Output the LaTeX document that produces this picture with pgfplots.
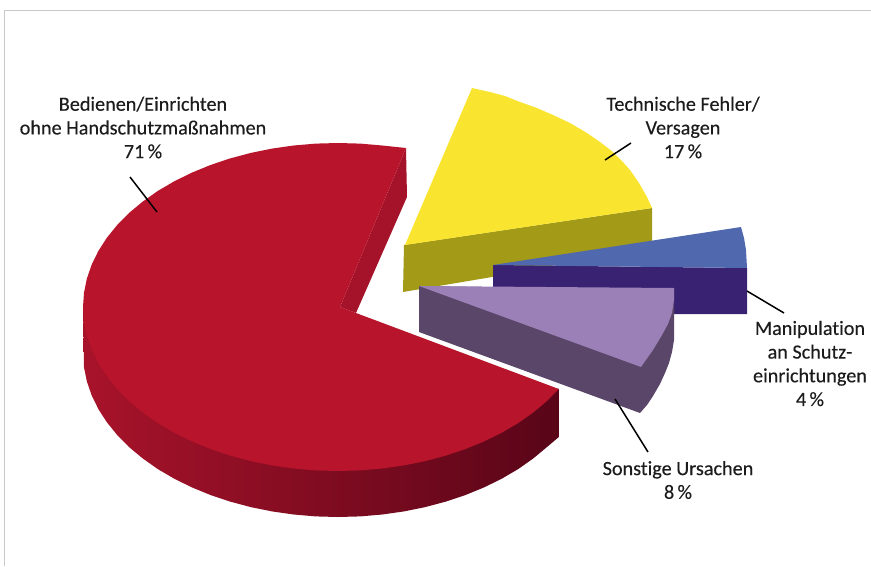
\documentclass[border=0pt]{standalone}
\usepackage{pgfplots}
\pgfplotsset{compat=1.18}
\usepackage{fontspec}
\setmainfont{Carlito}[Ligatures=NoCommon, FakeBold=0.25]

\definecolor{frameGrey}{HTML}{C9C9C9}
\definecolor{redTop}{HTML}{B8142B}
\definecolor{redWall}{HTML}{A5132A}
\definecolor{redSideL}{HTML}{A8132A}
\definecolor{redSideM}{HTML}{760D1E}
\definecolor{redSideR}{HTML}{590518}
\definecolor{yellowTop}{HTML}{F9E52F}
\definecolor{yellowSide}{HTML}{A39A18}
\definecolor{blueTop}{HTML}{4F68AE}
\definecolor{blueSide}{HTML}{3A2272}
\definecolor{lilacTop}{HTML}{9B80B8}
\definecolor{lilacSide}{HTML}{5A4668}
\definecolor{labelInk}{HTML}{1C1C1C}

\begin{document}
\begin{tikzpicture}
\path[use as bounding box] (0,0) rectangle (871pt,566pt);
\begin{axis}[
  width=871pt, height=566pt, scale only axis,
  xmin=0, xmax=871, ymin=0, ymax=566, y dir=reverse,
  hide axis, clip=false,
  every axis plot/.append style={line join=round},
]
% frame along the top and the left
\addplot[frameGrey, line width=1pt] coordinates {(4.5,566)(4.5,10)(871,10)};

% 71 %: rim of the large sector
\addplot[draw=none, left color=redSideL, middle color=redSideM, right color=redSideR] coordinates {
 (83,307)(84,367.3)(86.9,381.5)(91.7,395.4)(98.4,409.1)(106.9,422.3)(117.2,435)(129.1,447.1)
 (142.7,458.4)(157.7,469)(174.1,478.6)(191.7,487.3)(210.5,495)(230.2,501.6)(250.8,507.1)
 (272,511.4)(293.7,514.5)(315.8,516.4)(338,517)(360.2,516.4)(382.3,514.5)(404,511.4)
 (425.2,507.1)(445.8,501.6)(465.5,495)(484.3,487.3)(501.9,478.6)(518.3,469)(533.3,458.4)
 (546.9,447.1)(558.8,437)(558.8,389)} -- cycle;
% 71 %: inner wall
\addplot[draw=none, fill=redWall] coordinates {(406,148)(407,197)(356,313)(340,307)} -- cycle;
% 71 %: top face
\addplot[draw=none, fill=redTop] coordinates {
 (406,148)(382.3,145.5)(360.2,143.6)(338,143)(315.8,143.6)(293.7,145.5)(272,148.6)(250.8,152.9)
 (230.2,158.4)(210.5,165)(191.7,172.7)(174.1,181.4)(157.7,191)(142.7,201.6)(129.1,212.9)
 (117.2,225)(106.9,237.7)(98.4,250.9)(91.7,264.6)(86.9,278.5)(84,292.7)(83,307)
 (84,321.3)(86.9,335.5)(91.7,349.4)(98.4,363.1)(106.9,376.3)(117.2,389)(129.1,401.1)
 (142.7,412.4)(157.7,423)(174.1,432.6)(191.7,441.3)(210.5,449)(230.2,455.6)(250.8,461.1)
 (272,465.4)(293.7,468.5)(315.8,470.4)(338,471)(360.2,470.4)(382.3,468.5)(404,465.4)
 (425.2,461.1)(445.8,455.6)(465.5,449)(484.3,441.3)(501.9,432.6)(518.3,423)(533.3,412.4)
 (546.9,401.1)(558.8,389)(340,307)} -- cycle;

% 17 %: side and top
\addplot[draw=none, fill=yellowSide] coordinates {(404,245)(652,208)(652,247)(492,277)(403,292)} -- cycle;
\addplot[draw=none, fill=yellowTop] coordinates {
 (405,245)(472,88)(490,92)(505,96)(520,102)(537,108)(553,115)(570,123)(587,133)(600,142)
 (613,152)(622,161)(630,170)(639,183)(647,197)(652,208)} -- cycle;

% 4 %: side and top
\addplot[draw=none, fill=blueSide] coordinates {(493,265)(747,268)(747,314)(640,314)(493,290)} -- cycle;
\addplot[draw=none, fill=blueTop] coordinates {(493,265)(741,227)(744,238)(746,250)(747,268)} -- cycle;

% 8 %: side and top
\addplot[draw=none, fill=lilacSide] coordinates {
 (419,286)(419,332)(640,413)(647,405)(653,396)(660,384)(665,373)(669,363)(672,352)(674,340)
 (674,327)(674,290)} -- cycle;
\addplot[draw=none, fill=lilacTop] coordinates {
 (419,286)(674,288)(674,300)(672,313)(668,324)(662,335)(653,350)(641,367)} -- cycle;

% leader lines
\addplot[black, line width=1.5pt] coordinates {(130,177)(157,212)};
\addplot[black, line width=1.5pt] coordinates {(631,143)(605,160)};
\addplot[black, line width=1.5pt] coordinates {(747,291)(784,313)};
\addplot[black, line width=1.5pt] coordinates {(615,399)(648,452)};

% sector labels
\tikzset{sector label/.style={align=center, text=labelInk, inner sep=0pt,
  font=\fontsize{20.2}{23.7}\selectfont}}
\node[sector label] at (axis cs:143,127.5) {Bedienen/Einrichten\\ohne Handschutzmaßnahmen\\71\,\%};
\node[sector label] at (axis cs:683,127.5) {Technische Fehler/\\Versagen\\17\,\%};
\node[sector label] at (axis cs:810,363.5) {Manipulation\\an Schutz-\\einrichtungen\\4\,\%};
\node[sector label] at (axis cs:678,480) {Sonstige Ursachen\\8\,\%};
\end{axis}
\end{tikzpicture}
\end{document}
